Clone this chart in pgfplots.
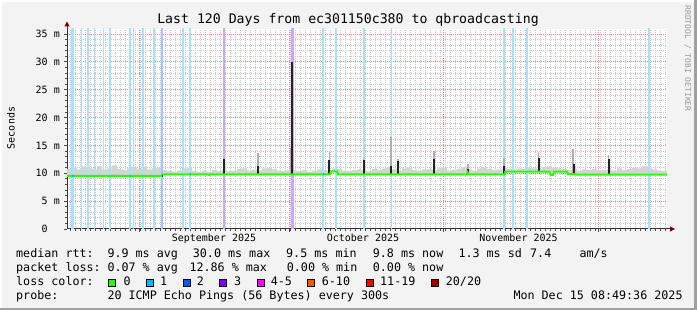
\documentclass[border=0pt]{standalone}
\usepackage{fontspec}
\setmainfont{DejaVu Sans Mono}
\setmonofont{DejaVu Sans Mono}
\usepackage{pgfplots}
\usepackage{pgfplotstable}
\pgfplotsset{compat=1.18}
\usepgfplotslibrary{fillbetween}
\usetikzlibrary{arrows.meta}

\definecolor{bgcol}{RGB}{243,243,243}
\pagecolor{bgcol}
\definecolor{shadow}{RGB}{160,160,160}
\definecolor{arrowred}{RGB}{128,0,0}
\definecolor{gridred}{RGB}{245,135,135}
\definecolor{gridgray}{RGB}{200,200,200}
\definecolor{lc0}{RGB}{38,255,0}
\definecolor{lc1}{RGB}{0,184,255}
\definecolor{lc2}{RGB}{0,89,255}
\definecolor{lc3}{RGB}{126,0,255}
\definecolor{lc4}{RGB}{255,0,255}
\definecolor{lc6}{RGB}{255,85,0}
\definecolor{lc11}{RGB}{255,0,0}
\definecolor{lc20}{RGB}{161,0,0}
\definecolor{loss1bar}{RGB}{168,226,250}
\definecolor{loss2bar}{RGB}{165,196,250}
\definecolor{loss3bar}{RGB}{200,168,250}
\definecolor{smokecol}{RGB}{212,212,212}
\definecolor{smokedark}{RGB}{175,175,175}
\definecolor{spikecol}{RGB}{35,35,35}

\newcommand{\lgfont}{\fontsize{11.7}{14}\selectfont}
\newcommand{\axfont}{\fontsize{10}{12}\selectfont}
\newcommand{\ttlfont}{\fontsize{13.2}{15}\selectfont}

% median round-trip time (ms), x in days from start of window
\pgfplotstableread{
x y
0 9.55
5.3 9.55
5.5 9.45
5.8 9.55
19.0 9.55
19.1 9.8
28.2 9.8
28.4 9.7
28.7 9.8
52.6 9.8
52.8 10.35
54.0 10.35
54.2 9.8
80.0 9.8
80.1 10.2
80.5 9.8
87.6 9.8
87.8 10.3
96.5 10.3
96.7 9.7
97.2 9.7
97.4 10.3
100.0 10.3
100.2 9.85
101.7 9.85
101.9 9.75
120 9.75
}\mediantab

% upper edge of the smoke (ms), one value per day
\pgfplotstableread{
x y
0 10.8
1 11.0
2 10.7
3 11.2
4 10.9
5 10.8
6 11.3
7 10.7
8 10.9
9 11.4
10 10.8
11 10.6
12 10.9
13 11.1
14 10.8
15 11.2
16 10.7
17 10.9
18 11.0
19 10.6
20 10.4
21 10.3
22 10.5
23 10.9
24 11.0
25 10.4
26 10.3
27 10.5
28 10.3
29 10.6
30 10.4
31 10.6
32 10.4
33 10.5
34 10.8
35 10.9
36 10.5
37 10.6
38 10.5
39 10.9
40 11.0
41 10.7
42 10.5
43 10.4
44 10.6
45 10.5
46 10.4
47 10.6
48 10.3
49 10.5
50 10.7
51 10.6
52 10.4
53 10.9
54 10.8
55 10.5
56 10.4
57 10.6
58 10.7
59 10.5
60 10.4
61 10.8
62 10.6
63 10.9
64 11.1
65 10.7
66 10.5
67 10.9
68 11.0
69 10.6
70 10.5
71 10.7
72 10.8
73 10.6
74 10.9
75 11.0
76 10.5
77 10.6
78 10.8
79 11.1
80 10.7
81 10.5
82 10.9
83 11.1
84 10.8
85 10.6
86 10.7
87 10.9
88 10.8
89 10.7
90 10.9
91 10.8
92 11.0
93 10.9
94 10.8
95 11.1
96 11.3
97 11.0
98 10.9
99 10.8
100 10.6
101 10.8
102 10.5
103 10.7
104 10.6
105 10.8
106 10.5
107 10.6
108 10.7
109 10.5
110 10.9
111 10.6
112 10.8
113 11.0
114 10.9
115 11.3
116 11.0
117 10.7
118 10.5
119 10.4
120 10.4
}\smoketab

\begin{document}%
\begin{tikzpicture}
\fill[white] (0pt,308pt) rectangle (697pt,310pt);
\fill[white] (0pt,0pt) rectangle (2pt,310pt);
\fill[shadow] (0pt,0pt) rectangle (697pt,2pt);
\fill[shadow] (694pt,0pt) rectangle (697pt,310pt);

\begin{axis}[
  at={(67pt,81pt)}, anchor=south west,
  scale only axis, width=600pt, height=200pt,
  xmin=0, xmax=120, ymin=0, ymax=35.9,
  axis x line=bottom, axis y line=left,
  axis background/.style={fill=white},
  x axis line style={black!80, line width=1pt, -{Triangle[width=5pt,length=5pt,color=arrowred]}, shorten >=-8pt},
  y axis line style={black!80, line width=1pt, -{Triangle[width=5pt,length=5pt,color=arrowred]}, shorten >=-7.5pt},
  xtick={14.4,44.4,75.3,106.2}, xticklabels={,,,},
  minor xtick={0.632,1.632,...,119.632},
  ytick={0,5,...,35},
  yticklabels={0\phantom{\ m},5 m,10 m,15 m,20 m,25 m,30 m,35 m},
  minor y tick num=4,
  grid=both,
  major grid style={draw=gridred, line width=1pt, dash pattern=on 1pt off 1pt},
  minor grid style={draw=gridgray, line width=1pt, dash pattern=on 1pt off 1pt},
  tick align=outside, major tick length=3pt, minor tick length=2pt,
  tick style={black!70, line width=0.8pt},
  extra x ticks={29.4,59.2,90.3},
  extra x tick labels={September 2025,October 2025,November 2025},
  extra x tick style={grid=none, major tick length=0pt},
  tick label style={font=\axfont},
  yticklabel style={anchor=east, inner sep=0pt, xshift=-4pt},
  xticklabel style={anchor=north, inner sep=0pt, yshift=-4.4pt},
  unbounded coords=jump,
]
% loss bars, full height
\addplot[loss1bar, line width=1.4pt, forget plot] coordinates {
 (2.9,0) (2.9,40) (2.9,nan)
 (5.5,0) (5.5,40) (5.5,nan)
 (7.3,0) (7.3,40) (7.3,nan)
 (8.6,0) (8.6,40) (8.6,nan)
 (13.3,0) (13.3,40) (13.3,nan)
 (15.2,0) (15.2,40) (15.2,nan)
 (17.4,0) (17.4,40) (17.4,nan)
 (23.2,0) (23.2,40) (23.2,nan)
 (53.8,0) (53.8,40) (53.8,nan)
 (59.4,0) (59.4,40) (59.4,nan)
 (64.9,0) (64.9,40) (64.9,nan)
 (87.4,0) (87.4,40) (87.4,nan)
 (89.2,0) (89.2,40) (89.2,nan)
 (92.0,0) (92.0,40) (92.0,nan)
 (116.4,0) (116.4,40)
};
\addplot[loss1bar, line width=2.6pt, forget plot] coordinates {
 (1.14,0) (1.14,40) (1.14,nan)
 (4.2,0) (4.2,40) (4.2,nan)
 (12.6,0) (12.6,40) (12.6,nan)
 (24.6,0) (24.6,40) (24.6,nan)
 (51.2,0) (51.2,40)
};
\addplot[loss2bar, line width=1.6pt, forget plot] coordinates {(19.0,0) (19.0,40)};
\addplot[loss3bar, line width=1.4pt, forget plot] coordinates {(31.4,0) (31.4,40)};
\addplot[loss3bar, line width=2.2pt, forget plot] coordinates {(45.1,0) (45.1,40)};

% smoke
\addplot[const plot, draw=none, name path=smU, forget plot] table {\smoketab};
\addplot[draw=none, name path=smL, forget plot] table {\mediantab};
\addplot[smokecol, forget plot] fill between[of=smU and smL];

% lighter spikes of the smoke
\addplot[smokedark, line width=1.5pt, forget plot] coordinates {
 (31.3,9.8) (31.3,12.8) (31.3,nan)
 (38.2,9.8) (38.2,13.7) (38.2,nan)
 (44.7,9.8) (44.7,14.5) (44.7,nan)
 (52.5,9.8) (52.5,14.0) (52.5,nan)
 (59.3,9.8) (59.3,12.8) (59.3,nan)
 (64.8,9.8) (64.8,16.6) (64.8,nan)
 (66.2,9.8) (66.2,12.6) (66.2,nan)
 (73.4,9.8) (73.4,14.0) (73.4,nan)
 (80.2,9.8) (80.2,11.6) (80.2,nan)
 (87.4,9.8) (87.4,12.8) (87.4,nan)
 (94.3,10.3) (94.3,13.9) (94.3,nan)
 (101.2,9.8) (101.2,14.3) (101.2,nan)
 (108.3,9.8) (108.3,13.2)
};
% dark spikes
\addplot[spikecol, line width=2pt, forget plot] coordinates {
 (31.3,9.8) (31.3,12.5) (31.3,nan)
 (38.2,9.8) (38.2,11.3) (38.2,nan)
 (44.9,9.8) (44.9,30.0) (44.9,nan)
 (52.4,9.8) (52.4,12.4) (52.4,nan)
 (59.3,9.8) (59.3,12.4) (59.3,nan)
 (64.8,9.8) (64.8,11.3) (64.8,nan)
 (66.2,9.8) (66.2,12.2) (66.2,nan)
 (73.3,9.8) (73.3,12.6) (73.3,nan)
 (80.2,9.8) (80.2,10.7) (80.2,nan)
 (87.4,9.8) (87.4,11.3) (87.4,nan)
 (94.3,10.3) (94.3,12.8) (94.3,nan)
 (101.3,9.85) (101.3,11.6) (101.3,nan)
 (108.3,9.75) (108.3,12.5)
};
% median
\addplot[lc0, line width=2pt, forget plot] table {\mediantab};
% median segments with 1/20 loss
\addplot[lc1, line width=2pt, forget plot] coordinates {
 (1.0,9.55) (1.3,9.55) (1.3,nan)
 (12.5,9.55) (12.8,9.55) (12.8,nan)
 (24.5,9.8) (24.8,9.8) (24.8,nan)
 (51.1,9.8) (51.4,9.8) (51.4,nan)
 (87.3,10.3) (87.6,10.3)
};
\addplot[lc2, line width=2pt, forget plot] coordinates {(18.9,9.55) (19.2,9.55)};
\end{axis}

% title, axis label, watermark
\node[anchor=base, inner sep=0, font=\ttlfont] at (348pt,286pt) {Last 120 Days from ec301150c380 to qbroadcasting};
\node[anchor=base, inner sep=0, font=\axfont, rotate=90] at (14.5pt,182pt) {Seconds};
\node[anchor=base, inner sep=0, font=\fontsize{8}{9}\selectfont, text=black!40, rotate=-90] at (685pt,251.5pt) {RRDTOOL / TOBI OETIKER};

% legend lines
\begin{scope}[every node/.style={anchor=base west, inner sep=0, font=\lgfont}]
\node at (16pt,52pt) {median rtt:};
\node at (107.3pt,52pt) {9.9 ms avg};
\node at (192.7pt,52pt) {30.0 ms max};
\node at (286pt,52pt) {9.5 ms min};
\node at (372.7pt,52pt) {9.8 ms now};
\node at (458.3pt,52pt) {1.3 ms sd};
\node at (530pt,52pt) {7.4};
\node at (579.3pt,52pt) {am/s};

\node at (16pt,38.3pt) {packet loss:};
\node at (107.3pt,38.3pt) {0.07 \% avg};
\node at (189.3pt,38.3pt) {12.86 \% max};
\node at (286.7pt,38.3pt) {0.00 \% min};
\node at (372.7pt,38.3pt) {0.00 \% now};

\node at (16pt,24.3pt) {loss color:};
\node at (123.3pt,24.3pt) {0};
\node at (160pt,24.3pt) {1};
\node at (196.7pt,24.3pt) {2};
\node at (234pt,24.3pt) {3};
\node at (270.7pt,24.3pt) {4-5};
\node at (321.7pt,24.3pt) {6-10};
\node at (380pt,24.3pt) {11-19};
\node at (445.7pt,24.3pt) {20/20};

\node at (16pt,10.7pt) {probe:};
\node at (107.3pt,10.7pt) {20 ICMP Echo Pings (56 Bytes) every 300s};
\node at (513.3pt,10.7pt) {Mon Dec 15 08:49:36 2025};
\end{scope}
\begin{scope}[draw=black, line width=0.9pt]
\filldraw[fill=lc0] (108.8pt,23.8pt) rectangle ++(7pt,7pt);
\filldraw[fill=lc1] (146.2pt,23.8pt) rectangle ++(7pt,7pt);
\filldraw[fill=lc2] (183.2pt,23.8pt) rectangle ++(7pt,7pt);
\filldraw[fill=lc3] (219.8pt,23.8pt) rectangle ++(7pt,7pt);
\filldraw[fill=lc4] (257.2pt,23.8pt) rectangle ++(7pt,7pt);
\filldraw[fill=lc6] (307.2pt,23.8pt) rectangle ++(7pt,7pt);
\filldraw[fill=lc11] (366.2pt,23.8pt) rectangle ++(7pt,7pt);
\filldraw[fill=lc20] (431.5pt,23.8pt) rectangle ++(7pt,7pt);
\end{scope}
\pgfresetboundingbox
\path[use as bounding box] (0pt,0pt) rectangle (697pt,310pt);
\end{tikzpicture}%
\end{document}
